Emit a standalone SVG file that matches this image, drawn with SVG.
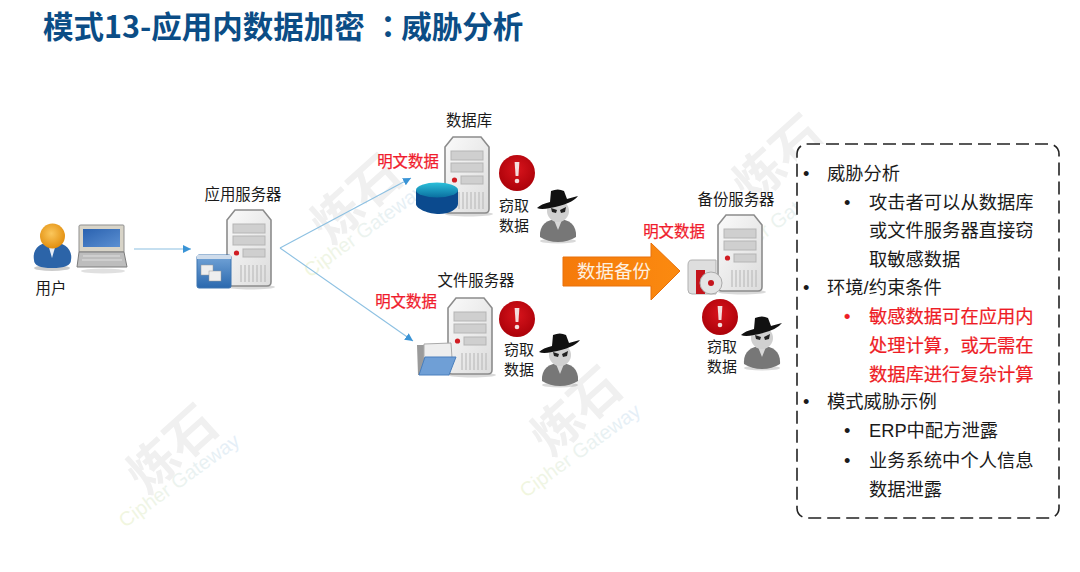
<svg xmlns="http://www.w3.org/2000/svg" width="1080" height="572" viewBox="0 0 1080 572">
<style>
text{font-family:"Liberation Sans","Noto Sans CJK SC",sans-serif;fill:#1a1a1a}
.cn{font-family:"Noto Sans CJK SC","Liberation Sans",sans-serif}
.lbl{font-size:15.4px;text-anchor:middle}
.st{font-size:15px;text-anchor:middle}
.red{font-size:15.4px;text-anchor:middle;fill:#f01c2c;stroke:#f01c2c;stroke-width:.25}
.b{font-size:18.3px}
.r{fill:#ee1c25;stroke:#ee1c25;stroke-width:.2}
.wm{font-size:50px;fill:#f0f0f0;font-weight:700;text-anchor:middle}
.wc{font-size:20px;fill:url(#wmg);text-anchor:middle}
.conn{fill:none;stroke:#8cc0e2;stroke-width:1.1}
</style>
<defs>
<linearGradient id="wmg" x1="0" x2="1" y1="0" y2="0"><stop offset="0" stop-color="#f1f6de"/><stop offset=".45" stop-color="#ecf3ee"/><stop offset="1" stop-color="#e4eef8"/></linearGradient>
<linearGradient id="body" x1="0" x2="1" y1="0" y2="1"><stop offset="0" stop-color="#fafafa"/><stop offset="1" stop-color="#dcdcdc"/></linearGradient>
<radialGradient id="head" cx=".45" cy=".4" r=".65"><stop offset="0" stop-color="#fbc75c"/><stop offset="1" stop-color="#e08a08"/></radialGradient>
<radialGradient id="alertg" cx=".5" cy=".4" r=".65"><stop offset="0" stop-color="#d8141c"/><stop offset="1" stop-color="#a80008"/></radialGradient>
<linearGradient id="orange" x1="0" x2="1" y1="0" y2="0"><stop offset="0" stop-color="#f57a0a"/><stop offset="1" stop-color="#fb8a10"/></linearGradient>
<linearGradient id="screen" x1="0" x2="1" y1="0" y2="1"><stop offset="0" stop-color="#2a62b0"/><stop offset="1" stop-color="#5c90d2"/></linearGradient>
<linearGradient id="appblue" x1="0" x2="0" y1="0" y2="1"><stop offset="0" stop-color="#74a5d8"/><stop offset="1" stop-color="#2a68ae"/></linearGradient>
<linearGradient id="disk" x1="0" x2="0" y1="0" y2="1"><stop offset="0" stop-color="#2cc0da"/><stop offset="1" stop-color="#0a6fa0"/></linearGradient>
<marker id="ah" markerWidth="9" markerHeight="9" refX="8" refY="4" orient="auto" markerUnits="userSpaceOnUse"><path d="M0 0L8 4L0 8Z" fill="#3a94d6"/></marker>
<symbol id="server" viewBox="-2 -2 50 84" width="50" height="84" overflow="visible">
<ellipse cx="24" cy="77" rx="24" ry="2.5" fill="#000" opacity=".15"/>
<path d="M8 0H36L44 10V72Q44 76 40 76H4Q0 76 0 72V10Z" fill="url(#body)" stroke="#8c8c8c" stroke-width="1.6"/>
<rect x="6" y="14" width="32" height="9" fill="#cfcfcf" stroke="#b5b5b5"/>
<rect x="6" y="26" width="32" height="9" fill="#cfcfcf" stroke="#b5b5b5"/>
<rect x="16" y="39" width="22" height="8" fill="#cfcfcf" stroke="#b5b5b5"/>
<circle cx="9.500" cy="43" r="2.600" fill="#d01c22"/>
<path d="M14 55V72M18 55V72M22 55V72M26 55V72M30 55V72M34 55V72M38 55V72" stroke="#bdbdbd" stroke-width="1.200"/>
</symbol>
<symbol id="alert" viewBox="-18 -18 36 36" width="36" height="36" overflow="visible">
<circle r="18" fill="url(#alertg)"/>
<path d="M-2.400 -11H2.400L1.400 3H-1.400Z" fill="#f4dcdc"/>
<circle cy="8" r="2.300" fill="#f4dcdc"/>
</symbol>
<symbol id="spy" viewBox="-21 -17 42 56" width="42" height="56" overflow="visible">
<ellipse cy="36" rx="18" ry="2.500" fill="#000" opacity=".15"/>
<path d="M-18 32C-19 20 -11 14 0 14C11 14 19 20 18 32Q10 37 0 37Q-10 37 -18 32Z" fill="#777"/>
<path d="M-4 15L0 25L4 15Z" fill="#d8d8d8"/>
<circle cy="6" r="11" fill="#d0d0d0"/>
<path d="M-7 3L-1 5L-2 8L-6 7ZM2 5L8 2L7 7L3 8Z" fill="#222"/>
<path d="M-8 -3L-7 -14Q0 -17 6 -14L9 -6Q16 -8 20 -9Q14 -1 -8 3Q-17 5 -21 3Q-17 -1 -8 -3Z" fill="#111"/>
</symbol>
</defs>
<rect width="1080" height="572" fill="#fff"/>
<g id="watermarks">
<text class="wm cn" transform="translate(184 462) rotate(-42)">炼石</text>
<text class="wc" transform="translate(183 486) rotate(-36)">Cipher Gateway</text>
<text class="wm cn" transform="translate(368 212) rotate(-42)">炼石</text>
<text class="wc" transform="translate(368 236) rotate(-36)">Cipher Gateway</text>
<text class="wm cn" transform="translate(588 424) rotate(-42)">炼石</text>
<text class="wc" transform="translate(584 456) rotate(-36)">Cipher Gateway</text>
<text class="wm cn" transform="translate(790 172) rotate(-42)">炼石</text>
<text class="wc" transform="translate(782 226) rotate(-36)">Cipher Gateway</text>
</g>
<text id="title" class="cn" x="43" y="38" font-size="30.500" font-weight="700" style="fill:#0b4d86">模式13-应用内数据加密<tspan dx="8" font-family="Noto Sans CJK TC">：</tspan><tspan dx="-2">威胁分析</tspan></text>
<g id="connectors">
<path class="conn" d="M134 249H191" marker-end="url(#ah)"/>
<path class="conn" d="M280 248L411 178" marker-end="url(#ah)"/>
<path class="conn" d="M280 248L413 341" marker-end="url(#ah)"/>
</g>
<g id="user">
<ellipse cx="52" cy="268" rx="18" ry="3" fill="#000" opacity=".2"/>
<path d="M34 260C32 249 40 242 52 242C64 242 73 249 71 260Q71 268 52 268Q34 268 34 260Z" fill="#2c64a8"/>
<path d="M48 244L52 258L56 244Z" fill="#e8eef6"/>
<circle cx="52.500" cy="236" r="12.500" fill="url(#head)"/>
<path d="M79 226Q79 225 81 225H123Q124 225 124 226V252H79Z" fill="#d8d4c8" stroke="#8f8f8f"/>
<rect x="83" y="229" width="37" height="18" fill="url(#screen)"/>
<path d="M79 252H124L127 267H77Z" fill="#bdbdbd" stroke="#7d7d7d"/>
<path d="M83 256H120M82 260H122" stroke="#e0e0e0"/>
<ellipse cx="103" cy="271" rx="22" ry="2.500" fill="#000" opacity=".12"/>
<text class="lbl cn" x="51" y="294">用户</text>
</g>
<g id="app-server">
<use href="#server" x="225" y="208"/>
<rect x="197" y="255" width="34" height="33" rx="2" fill="url(#appblue)" stroke="#3c74b0"/>
<rect x="197" y="255" width="34" height="4" fill="#cfdceb"/>
<rect x="201" y="265" width="12" height="10" fill="#eee" stroke="#999" stroke-width=".5"/>
<rect x="209" y="271" width="12" height="10" fill="#eee" stroke="#999" stroke-width=".5"/>
<text class="lbl cn" x="243" y="200">应用服务器</text>
</g>
<g id="database">
<use href="#server" x="443" y="135"/>
<path d="M416 190V204C416 209 429 214 439 214C449 214 458 209 458 204V190Z" fill="#0b4a8e"/>
<ellipse cx="437" cy="190" rx="21" ry="7.500" fill="url(#disk)"/>
<text class="lbl cn" x="469" y="126">数据库</text>
<text class="red cn" x="408" y="167">明文数据</text>
<use href="#alert" x="499" y="155"/>
<use href="#spy" x="537" y="188"/>
<text class="st cn" x="514" y="211">窃取</text>
<text class="st cn" x="514" y="231">数据</text>
</g>
<g id="file-server">
<use href="#server" x="446" y="296"/>
<path d="M417 345H432L436 349H440V375H418Z" fill="#9a9a9a"/>
<path d="M424 344L451 343L452 358H424Z" fill="#eee" stroke="#aaa"/>
<path d="M425 357H456L449 375H419Z" fill="#6f9fd6" stroke="#4a7fbd"/>
<text class="lbl cn" x="476" y="286">文件服务器</text>
<text class="red cn" x="406" y="307">明文数据</text>
<use href="#alert" x="499" y="301"/>
<use href="#spy" x="539" y="332"/>
<text class="st cn" x="519" y="355">窃取</text>
<text class="st cn" x="519" y="375">数据</text>
</g>
<g id="backup-arrow">
<path d="M563 257H651V243L680 271L651 300V286H563Z" fill="url(#orange)" stroke="#e8700a"/>
<text class="cn" x="577" y="278" font-size="18.500" style="fill:#fdf0e0">数据备份</text>
</g>
<g id="backup-server">
<use href="#server" x="716" y="213"/>
<path d="M688 265Q688 260 692 260H716V294H692Q688 294 688 290Z" fill="#dedede" stroke="#b0b0b0"/>
<rect x="696" y="270" width="9" height="24" fill="#c4141c"/>
<circle cx="711" cy="283" r="11" fill="#e4e4e4" stroke="#aaa"/>
<circle cx="711" cy="283" r="3" fill="#c4141c"/>
<text class="lbl cn" x="736" y="205">备份服务器</text>
<text class="red cn" x="674" y="237">明文数据</text>
<use href="#alert" x="702" y="299"/>
<use href="#spy" x="741" y="315"/>
<text class="st cn" x="722" y="352">窃取</text>
<text class="st cn" x="722" y="372">数据</text>
</g>
<g id="notes">
<rect x="797" y="144" width="262" height="374" rx="10" fill="#fff" stroke="#222" stroke-width="1.600" stroke-dasharray="13 6"/>
<g class="cn b">
<text x="803" y="180">•</text><text x="827" y="180">威胁分析</text>
<text x="844" y="209">•</text><text x="869" y="209">攻击者可以从数据库</text>
<text x="869" y="237">或文件服务器直接窃</text>
<text x="869" y="266">取敏感数据</text>
<text x="803" y="294">•</text><text x="827" y="294">环境/约束条件</text>
<text class="r" x="844" y="323">•</text><text class="r" x="869" y="323">敏感数据可在应用内</text>
<text class="r" x="869" y="352">处理计算，或无需在</text>
<text class="r" x="869" y="381">数据库进行复杂计算</text>
<text x="803" y="408">•</text><text x="827" y="408">模式威胁示例</text>
<text x="844" y="437">•</text><text x="869" y="437">ERP中配方泄露</text>
<text x="844" y="467">•</text><text x="869" y="467">业务系统中个人信息</text>
<text x="869" y="496">数据泄露</text>
</g>
</g>
</svg>
